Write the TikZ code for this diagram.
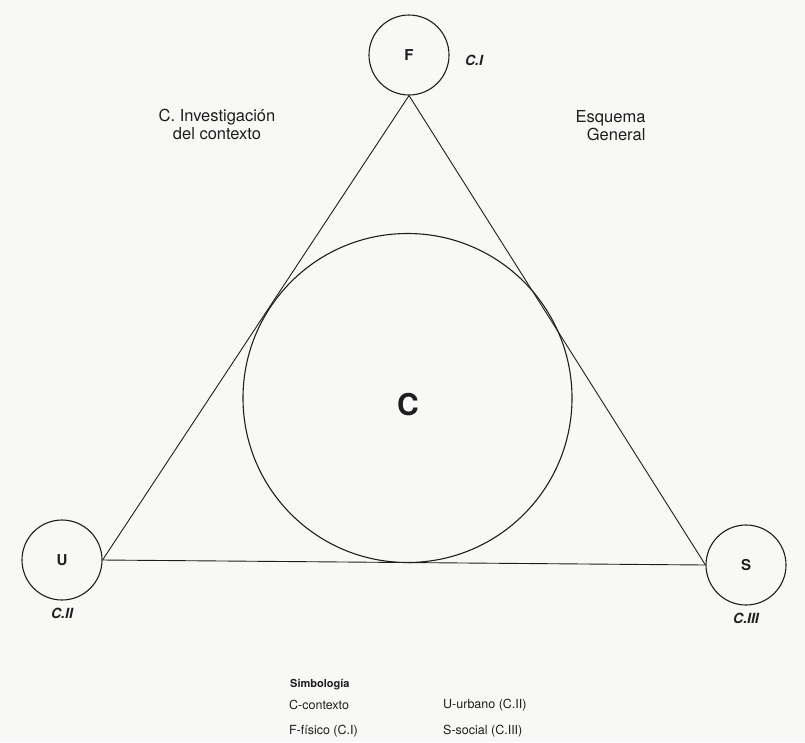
\documentclass[tikz,border=0pt]{standalone}
\usepackage{fontspec}
\setmainfont{TeX Gyre Heros}
\usetikzlibrary{positioning}
\definecolor{paper}{RGB}{248,248,246}
\definecolor{ink}{RGB}{30,30,30}

\begin{document}
\begin{tikzpicture}[
    x=1pt, y=-1pt,
    node distance=4pt and 12pt,
    field/.style={circle, draw=ink, line width=1.1pt, minimum size=80pt,
                  inner sep=0pt, text=ink,
                  font=\fontsize{15}{15}\selectfont\bfseries},
    fieldtag/.style={text=ink, font=\fontsize{14}{14}\selectfont\bfseries\itshape},
    side/.style={draw=ink, line width=0.9pt},
    caption/.style={text=ink, font=\fontsize{16.5}{18}\selectfont},
    legend/.style={anchor=west, inner sep=0pt, text=ink,
                   font=\fontsize{12.5}{14}\selectfont}
]

\fill[paper] (0,0) rectangle (805,742);
\useasboundingbox (0,0) rectangle (805,742);

% fields at the corners
\node[field] (F) at (409,55) {F};
\node[fieldtag, right=12pt of F, yshift=-5pt] (tF) {C.I};

\node[field] (U) at (62,560) {U};
\node[fieldtag, below=of U] (tU) {C.II};

\node[field] (S) at (746,565) {S};
\node[fieldtag, below=of S] (tS) {C.III};

% context circle
\node[circle, draw=ink, line width=1.1pt, minimum size=329pt, inner sep=0pt]
    (C) at (407.5,398) {};
\node[text=ink, font=\fontsize{30}{30}\selectfont\bfseries] (Cname) at (408,405) {C};

\draw[side] (F.south) -- (U.east);
\draw[side] (U.east) -- (S.west);
\draw[side] (S.west) -- (F.south);

% captions
\node[caption, align=center] (invest) at (217,124) {C. Investigación\\del contexto};
\node[caption, align=right, anchor=east] (esquema) at (649,126) {Esquema\\General};

% legend
\node[legend, font=\fontsize{11}{12}\selectfont\bfseries] (simb) at (290,685) {Simbología};
\node[legend] (lC) at (289,705) {C-contexto};
\node[legend] (lF) at (289,731) {F-físico (C.I)};
\node[legend] (lU) at (443,705) {U-urbano (C.II)};
\node[legend] (lS) at (443,731) {S-social (C.III)};

\end{tikzpicture}
\end{document}
